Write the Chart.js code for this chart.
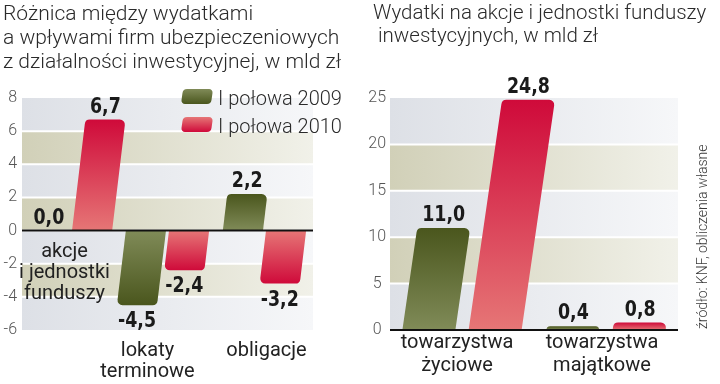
<!DOCTYPE html>
<html>
<head>
<meta charset="utf-8">
<script src="https://cdn.jsdelivr.net/npm/chart.js@4.4.1/dist/chart.umd.min.js"></script>
<style>
    body { margin: 0; width: 720px; height: 384px; position: relative; overflow: hidden; background: #fff; font-family: Roboto, sans-serif; color: #2a2a2a; }
    .box { position: absolute; top: 0; width: 360px; height: 384px; }
    .title { position: absolute; font-weight: 300; white-space: pre; }
    #legend { position: absolute; left: 180px; top: 84px; font-weight: 300; font-size: 20px; line-height: 28px; }
    #legend div { position: relative; height: 28px; padding-left: 38px; white-space: nowrap; }
    #legend span { position: absolute; left: 2px; top: 5px; width: 30px; height: 15px; border-radius: 4px; transform: skewX(-8deg); }
    #source { position: absolute; left: 694px; top: 133px; height: 196px; font-size: 14px; font-weight: 300; color: #3a3a3a; writing-mode: vertical-rl; transform: rotate(180deg); white-space: nowrap; }
</style>
</head>
<body>
<div class="box" style="left:0"><canvas id="leftChart" width="360" height="384"></canvas></div>
<div class="box" style="left:360px"><canvas id="rightChart" width="360" height="384"></canvas></div>
<div class="title" style="left:3px; top:1px; font-size:21px; line-height:24px;">Różnica między wydatkami
a wpływami firm ubezpieczeniowych
z działalności inwestycyjnej, w mld zł</div>
<div class="title" style="left:373px; top:1px; font-size:20.5px; line-height:23px;">Wydatki na akcje i jednostki funduszy
 inwestycyjnych, w mld zł</div>
<div id="legend"></div>
<div id="source">źródło: KNF, obliczenia własne</div>

<script>
// left chart: difference between spending and inflows
const leftCategories = [['akcje', 'i jednostki', 'funduszy'], ['lokaty', 'terminowe'], ['obligacje']];
const left2009 = [0.0, -4.5, 2.2];
const left2010 = [6.7, -2.4, -3.2];
const leftTicks = [-6, -4, -2, 0, 2, 4, 6, 8];

// right chart: spending on shares and fund units
const rightCategories = [['towarzystwa', 'życiowe'], ['towarzystwa', 'majątkowe']];
const right2009 = [11.0, 0.4];
const right2010 = [24.8, 0.8];
const rightTicks = [0, 5, 10, 15, 20, 25];

const seriesNames = ['I połowa 2009', 'I połowa 2010'];

// tip = dark end of the bar, base = light end at the zero line
const barColors = [
    { tip: '#4a561d', base: '#808b58' },
    { tip: '#cf0a3a', base: '#e67676' }
];
const bandColors = [['#dde0e6', '#f6f7f9'], ['#d1d0b8', '#f1f1e9']];

const fmt = v => v.toFixed(1).replace('.', ',');

// legend
const legendEl = document.getElementById('legend');
seriesNames.forEach((name, i) => {
    const c = barColors[i];
    legendEl.innerHTML += `<div><span style="background:linear-gradient(${c.base}, ${c.tip})"></span>${name}</div>`;
});

// bands, slanted bars, zero line, value and category labels
const slantPlugin = {
    id: 'slant',
    beforeDatasetsDraw(chart, args, o) {
        const { ctx, chartArea: a, scales: { y } } = chart;
        const ticks = y.ticks.map(t => t.value).sort((p, q) => q - p);
        ctx.save();
        for (let i = 0; i < ticks.length - 1; i++) {
            const y1 = y.getPixelForValue(ticks[i]);
            const y2 = y.getPixelForValue(ticks[i + 1]);
            const c = bandColors[i % 2];
            const g = ctx.createLinearGradient(a.left, 0, a.right, 0);
            g.addColorStop(0, c[0]);
            g.addColorStop(1, c[1]);
            ctx.fillStyle = g;
            ctx.fillRect(a.left, y1, a.right - a.left, y2 - y1);
        }
        ctx.strokeStyle = '#fff';
        ctx.lineWidth = 2;
        ticks.slice(1, -1).forEach(t => {
            const p = y.getPixelForValue(t);
            ctx.beginPath();
            ctx.moveTo(a.left, p);
            ctx.lineTo(a.right, p);
            ctx.stroke();
        });
        ctx.restore();
    },
    afterDatasetsDraw(chart, args, o) {
        const { ctx, chartArea: a, scales: { x, y } } = chart;
        const zero = y.getPixelForValue(0);
        const s = o.slant;
        ctx.save();
        chart.data.datasets.forEach((ds, di) => {
            const col = barColors[di];
            chart.getDatasetMeta(di).data.forEach((bar, i) => {
                const { x: cx, y: tip, base, width } = bar.getProps(['x', 'y', 'base', 'width'], true);
                const w = width / 2;
                const h = base - tip;
                const shift = (zero - tip) * s;
                if (Math.abs(h) > 0.5) {
                    const r = Math.min(o.radius, Math.abs(h), w);
                    const g = ctx.createLinearGradient(0, base, 0, tip);
                    g.addColorStop(0, col.base);
                    g.addColorStop(1, col.tip);
                    ctx.fillStyle = g;
                    ctx.beginPath();
                    ctx.moveTo(cx - w, base);
                    ctx.arcTo(cx - w + shift, tip, cx + w + shift, tip, r);
                    ctx.arcTo(cx + w + shift, tip, cx + w, base, r);
                    ctx.lineTo(cx + w, base);
                    ctx.closePath();
                    ctx.fill();
                }
                // value label, slightly squeezed to look condensed
                const v = ds.data[i];
                ctx.save();
                ctx.translate(cx + shift, v >= 0 ? tip - 7 : tip + 22);
                ctx.scale(0.88, 1);
                ctx.fillStyle = '#1a1a1a';
                ctx.font = "bold 22px 'DejaVu Sans Condensed'";
                ctx.textAlign = 'center';
                ctx.textBaseline = 'alphabetic';
                ctx.fillText(fmt(v), 0, 0);
                ctx.restore();
            });
        });

        // zero line
        ctx.strokeStyle = '#111';
        ctx.lineWidth = 2;
        ctx.beginPath();
        ctx.moveTo(a.left, zero);
        ctx.lineTo(a.right, zero);
        ctx.stroke();

        // category labels
        ctx.fillStyle = '#222';
        ctx.font = '20px Roboto';
        ctx.textAlign = 'center';
        ctx.textBaseline = 'middle';
        chart.data.labels.forEach((lines, i) => {
            const vals = chart.data.datasets.map(d => d.data[i]);
            const top = (Math.min(...vals) >= 0 ? zero : a.bottom) + o.gap;
            const cx = x.getPixelForValue(i) + o.shift[i];
            lines.forEach((line, k) => ctx.fillText(line, cx, top + k * o.lineHeight));
        });
        ctx.restore();
    }
};

function makeChart(id, categories, d2009, d2010, ticks, opt) {
    return new Chart(document.getElementById(id), {
        type: 'bar',
        data: {
            labels: categories,
            datasets: [d2009, d2010].map((d, i) => ({
                label: seriesNames[i],
                data: d,
                backgroundColor: 'rgba(0,0,0,0)',
                barPercentage: opt.barPct,
                categoryPercentage: opt.catPct
            }))
        },
        options: {
            responsive: false,
            animation: false,
            layout: { padding: { top: 98, bottom: 54, left: 0, right: opt.right } },
            scales: {
                x: { display: false },
                y: {
                    min: ticks[0],
                    max: ticks[ticks.length - 1],
                    afterBuildTicks: scale => { scale.ticks = ticks.map(v => ({ value: v })); },
                    afterFit: scale => { scale.width = opt.axisWidth; },
                    grid: { display: false, drawTicks: false },
                    border: { display: false },
                    ticks: {
                        padding: opt.tickPad,
                        crossAlign: opt.crossAlign,
                        color: '#555',
                        font: { family: 'Roboto', size: 16, weight: 300 }
                    }
                }
            },
            plugins: {
                legend: { display: false },
                tooltip: { enabled: false },
                slant: { slant: opt.slant, radius: 5, gap: opt.gap, lineHeight: opt.lineHeight, shift: opt.shift }
            }
        },
        plugins: [slantPlugin]
    });
}

makeChart('leftChart', leftCategories, left2009, left2010, leftTicks, {
    right: 47, axisWidth: 22, tickPad: 5, crossAlign: 'near',
    barPct: 0.93, catPct: 0.89, slant: 0.12,
    gap: 21, lineHeight: 21, shift: [-6, -20, 2]
});

makeChart('rightChart', rightCategories, right2009, right2010, rightTicks, {
    right: 42, axisWidth: 30, tickPad: 4, crossAlign: 'center',
    barPct: 0.8, catPct: 0.92, slant: 0.145,
    gap: 13, lineHeight: 23, shift: [-5, -4]
});
</script>
</body>
</html>
